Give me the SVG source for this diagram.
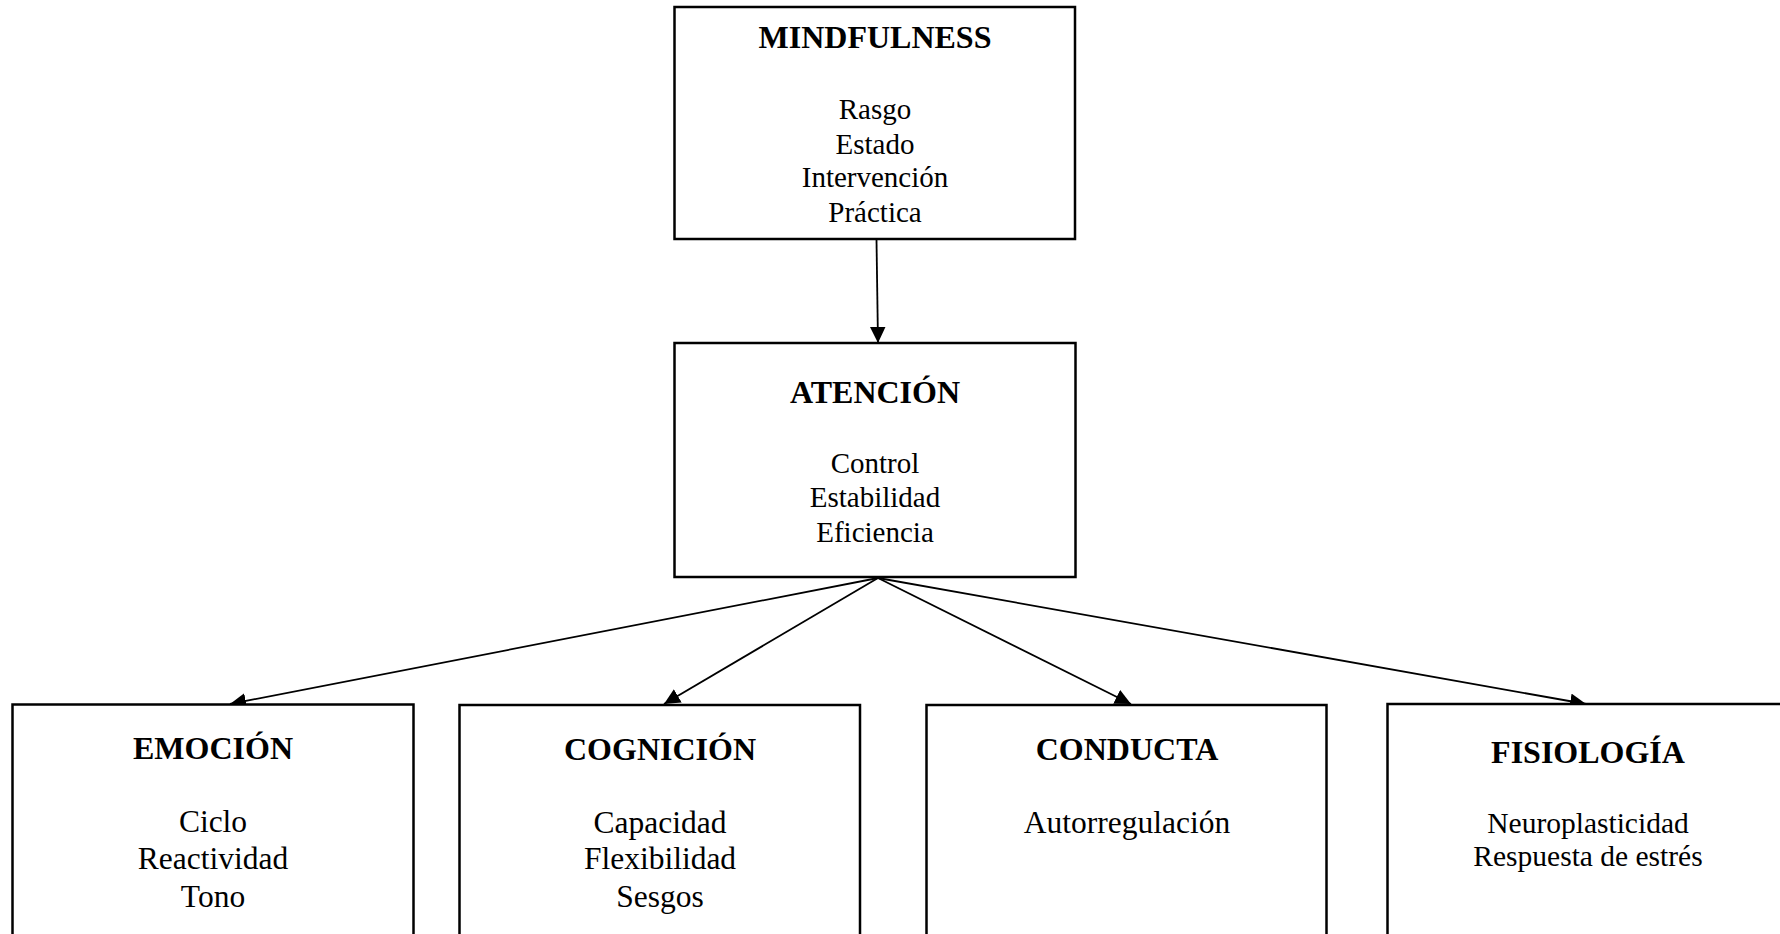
<svg xmlns="http://www.w3.org/2000/svg" width="1780" height="934" viewBox="0 0 1780 934">
  <style>
    .box { fill: #ffffff; stroke: #000000; stroke-width: 2.5; }
    .link { fill: none; stroke: #000000; stroke-width: 1.8; }
    .title { font-family: "Liberation Serif", "Times New Roman", serif; font-weight: bold; font-size: 32px; text-anchor: middle; fill: #000000; }
    .item { font-family: "Liberation Serif", "Times New Roman", serif; font-size: 29px; text-anchor: middle; fill: #000000; }
    .item-lg { font-family: "Liberation Serif", "Times New Roman", serif; font-size: 31.5px; text-anchor: middle; fill: #000000; }
  </style>
  <defs>
    <marker id="arrow" markerUnits="userSpaceOnUse" markerWidth="17" markerHeight="16" refX="16" refY="7.75" orient="auto">
      <path d="M0,0 L16,7.75 L0,15.5 z" fill="#000000"/>
    </marker>
  </defs>
  <rect width="1780" height="934" fill="#ffffff"/>

  <g id="connectors">
    <line class="link" x1="876.5" y1="240" x2="878" y2="343" marker-end="url(#arrow)"/>
    <line class="link" x1="878" y1="578" x2="230" y2="704" marker-end="url(#arrow)"/>
    <line class="link" x1="878" y1="578" x2="664" y2="704" marker-end="url(#arrow)"/>
    <line class="link" x1="878" y1="578" x2="1131" y2="704" marker-end="url(#arrow)"/>
    <line class="link" x1="878" y1="578" x2="1586" y2="704" marker-end="url(#arrow)"/>
  </g>

  <g id="mindfulness">
    <rect class="box" x="674.5" y="7" width="400.5" height="232"/>
    <text class="title" x="875" y="48">MINDFULNESS</text>
    <text class="item" x="875" y="119">Rasgo</text>
    <text class="item" x="875" y="154">Estado</text>
    <text class="item" x="875" y="187">Intervención</text>
    <text class="item" x="875" y="222">Práctica</text>
  </g>

  <g id="atencion">
    <rect class="box" x="674.5" y="343" width="401" height="234"/>
    <text class="title" x="875" y="403">ATENCIÓN</text>
    <text class="item" x="875" y="473">Control</text>
    <text class="item" x="875" y="507">Estabilidad</text>
    <text class="item" x="875" y="542">Eficiencia</text>
  </g>

  <g id="emocion">
    <rect class="box" x="12.5" y="704.5" width="401" height="260"/>
    <text class="title" x="213" y="759">EMOCIÓN</text>
    <text class="item-lg" x="213" y="832">Ciclo</text>
    <text class="item-lg" x="213" y="869">Reactividad</text>
    <text class="item-lg" x="213" y="907">Tono</text>
  </g>

  <g id="cognicion">
    <rect class="box" x="459.5" y="705" width="400.5" height="260"/>
    <text class="title" x="660" y="760">COGNICIÓN</text>
    <text class="item-lg" x="660" y="833">Capacidad</text>
    <text class="item-lg" x="660" y="869">Flexibilidad</text>
    <text class="item-lg" x="660" y="907">Sesgos</text>
  </g>

  <g id="conducta">
    <rect class="box" x="926.5" y="705" width="400" height="260"/>
    <text class="title" x="1127" y="760">CONDUCTA</text>
    <text class="item-lg" x="1127" y="833">Autorregulación</text>
  </g>

  <g id="fisiologia">
    <rect class="box" x="1387.5" y="704" width="401" height="260"/>
    <text class="title" x="1588" y="763">FISIOLOGÍA</text>
    <text class="item" x="1588" y="833" style="font-size:29.5px">Neuroplasticidad</text>
    <text class="item" x="1588" y="866" style="font-size:29.5px">Respuesta de estrés</text>
  </g>
</svg>
